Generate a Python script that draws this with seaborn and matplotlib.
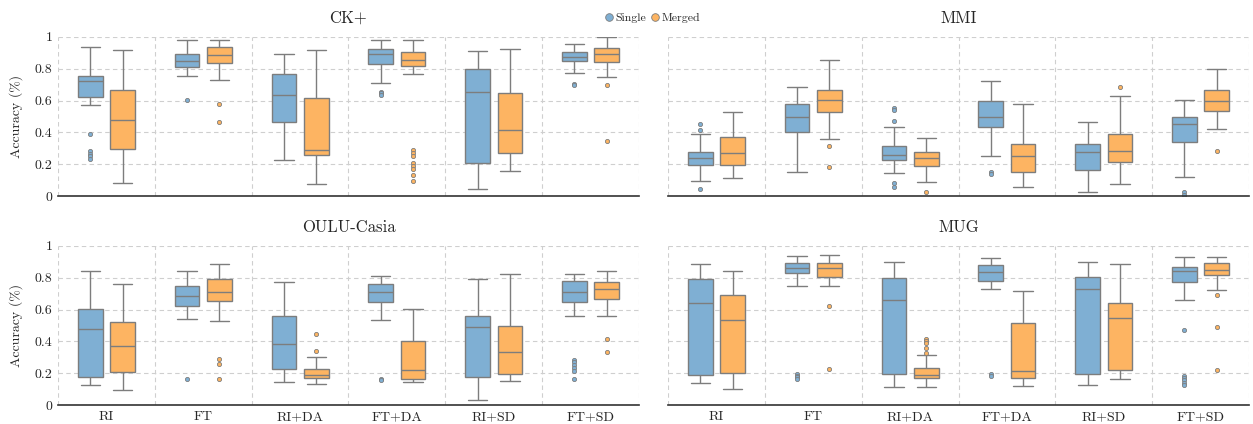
import numpy as np
import pandas as pd
import matplotlib.pyplot as plt
from matplotlib.lines import Line2D
import seaborn as sns

sns.set_style("white")
plt.rcParams["font.family"] = ["cmr10", "DejaVu Serif"]
plt.rcParams["axes.formatter.use_mathtext"] = True
plt.rcParams["mathtext.fontset"] = "cm"

methods = ["RI", "FT", "RI+DA", "FT+DA", "RI+SD", "FT+SD"]
kinds = ["Single", "Merged"]
colors = {"Single": "#7fafd3", "Merged": "#fdb462"}
edge = "#7d7d7d"

# (whisker low, q1, median, q3, whisker high) for each method
ck_single = [(0.574, 0.62, 0.722, 0.756, 0.937), (0.756, 0.808, 0.848, 0.894, 0.981),
             (0.225, 0.468, 0.637, 0.768, 0.891), (0.712, 0.831, 0.889, 0.923, 0.981),
             (0.044, 0.211, 0.651, 0.797, 0.908), (0.770, 0.845, 0.875, 0.906, 0.954)]
ck_single_out = [[0.392, 0.284, 0.267, 0.25, 0.236], [0.605], [], [0.655, 0.645, 0.635], [], [0.705, 0.695]]
ck_merged = [(0.081, 0.299, 0.476, 0.666, 0.914), (0.731, 0.833, 0.883, 0.933, 0.981),
             (0.079, 0.257, 0.292, 0.616, 0.914), (0.764, 0.814, 0.856, 0.902, 0.981),
             (0.157, 0.269, 0.415, 0.649, 0.921), (0.745, 0.841, 0.889, 0.931, 0.996)]
ck_merged_out = [[], [0.58, 0.466], [], [0.288, 0.269, 0.25, 0.207, 0.19, 0.17, 0.134, 0.094], [], [0.699, 0.349]]

mmi_single = [(0.094, 0.197, 0.242, 0.28, 0.392), (0.154, 0.403, 0.499, 0.58, 0.683),
              (0.144, 0.225, 0.257, 0.313, 0.436), (0.251, 0.436, 0.499, 0.599, 0.72),
              (0.027, 0.165, 0.276, 0.33, 0.466), (0.123, 0.342, 0.453, 0.497, 0.605)]
mmi_single_out = [[0.453, 0.415, 0.046], [], [0.552, 0.54, 0.47, 0.085, 0.061], [0.155, 0.14], [], [0.027, 0.005]]
mmi_merged = [(0.113, 0.198, 0.269, 0.374, 0.53), (0.361, 0.53, 0.605, 0.664, 0.856),
              (0.092, 0.188, 0.238, 0.276, 0.363), (0.056, 0.154, 0.25, 0.33, 0.58),
              (0.075, 0.217, 0.282, 0.39, 0.626), (0.424, 0.532, 0.599, 0.664, 0.80)]
mmi_merged_out = [[], [0.313, 0.186], [0.027], [], [0.687], [0.284]]

oulu_single = [(0.129, 0.175, 0.478, 0.603, 0.843), (0.539, 0.622, 0.687, 0.749, 0.843),
               (0.144, 0.225, 0.382, 0.559, 0.77), (0.532, 0.645, 0.71, 0.758, 0.812),
               (0.035, 0.175, 0.489, 0.562, 0.791), (0.562, 0.645, 0.71, 0.779, 0.823)]
oulu_single_out = [[], [0.165], [], [0.166, 0.158], [], [0.286, 0.269, 0.253, 0.236, 0.217, 0.165]]
oulu_merged = [(0.094, 0.209, 0.374, 0.52, 0.758), (0.53, 0.656, 0.708, 0.789, 0.885),
               (0.132, 0.173, 0.192, 0.225, 0.30), (0.146, 0.165, 0.219, 0.405, 0.603),
               (0.15, 0.194, 0.332, 0.497, 0.823), (0.562, 0.666, 0.727, 0.77, 0.843)]
oulu_merged_out = [[], [0.29, 0.261, 0.165], [0.447, 0.342], [], [], [0.418, 0.332]]

mug_single = [(0.138, 0.19, 0.639, 0.793, 0.885), (0.748, 0.831, 0.86, 0.889, 0.935),
              (0.117, 0.194, 0.658, 0.80, 0.896), (0.727, 0.781, 0.833, 0.877, 0.923),
              (0.127, 0.194, 0.727, 0.802, 0.896), (0.66, 0.775, 0.839, 0.868, 0.929)]
mug_single_out = [[], [0.195, 0.185, 0.175, 0.165], [], [0.195, 0.185], [], [0.472, 0.184, 0.171, 0.157, 0.142, 0.129]]
mug_merged = [(0.10, 0.20, 0.537, 0.689, 0.843), (0.745, 0.802, 0.86, 0.889, 0.939),
              (0.113, 0.173, 0.19, 0.232, 0.313), (0.123, 0.171, 0.213, 0.514, 0.714),
              (0.165, 0.221, 0.547, 0.641, 0.883), (0.724, 0.816, 0.848, 0.894, 0.931)]
mug_merged_out = [[], [0.622, 0.23], [0.418, 0.405, 0.388, 0.357, 0.328], [], [], [0.691, 0.491, 0.219]]

panels = [("CK+", ck_single, ck_single_out, ck_merged, ck_merged_out),
          ("MMI", mmi_single, mmi_single_out, mmi_merged, mmi_merged_out),
          ("OULU-Casia", oulu_single, oulu_single_out, oulu_merged, oulu_merged_out),
          ("MUG", mug_single, mug_single_out, mug_merged, mug_merged_out)]


def sample(stats, out, m=40):
    # a sample whose box plot statistics are the ones
    lo, q1, med, q3, hi = stats
    return list(out) + [lo] + [q1] * m + [med] * m + [q3] * m + [hi]


def frame(single, single_out, merged, merged_out):
    rows = []
    for kind, st, outs in [("Single", single, single_out), ("Merged", merged, merged_out)]:
        for meth, s, o in zip(methods, st, outs):
            for v in sample(s, o):
                rows.append((meth, kind, v))
    return pd.DataFrame(rows, columns=["method", "kind", "acc"])


fig, axes = plt.subplots(2, 2, figsize=(12.53, 4.24), dpi=100)
fig.subplots_adjust(left=0.0463, right=0.9968, bottom=0.0441, top=0.9134, wspace=0.05, hspace=0.31)

for ax, (name, s, so, mg, mo) in zip(axes.flat, panels):
    df = frame(s, so, mg, mo)
    sns.boxplot(data=df, x="method", y="acc", hue="kind",
                order=methods, hue_order=kinds, palette=colors, saturation=1,
                width=0.67, gap=0.24, linecolor=edge, linewidth=1,
                flierprops=dict(marker="o", markersize=3.0,
                                markeredgecolor=edge, markeredgewidth=0.6),
                capwidths=0.2, legend=False, ax=ax)
    # colour the outliers like their box (left of centre = Single)
    for ln in ax.lines:
        if ln.get_marker() == "o" and len(ln.get_xdata()):
            x = np.asarray(ln.get_xdata(), float)[0]
            kind = "Single" if x < np.round(x) else "Merged"
            ln.set_markerfacecolor(colors[kind])
    ax.set_xlim(-0.5, 5.5)
    ax.set_ylim(0, 1)
    ax.set_xticks(np.arange(-0.5, 6), minor=True)
    ax.set_yticks([0, 0.2, 0.4, 0.6, 0.8, 1])
    ax.grid(which="minor", axis="x", ls=(0, (4, 3)), color="#cfcfcf", lw=0.8)
    ax.grid(which="major", axis="y", ls=(0, (4, 3)), color="#cfcfcf", lw=0.8)
    ax.set_axisbelow(True)
    ax.tick_params(which="minor", length=0)
    ax.tick_params(axis="x", which="major", length=0, pad=4, labelsize=10)
    ax.tick_params(axis="y", length=3, direction="in", color="#999999", labelsize=10, pad=4)
    for sp in ["top", "right", "left"]:
        ax.spines[sp].set_visible(False)
    ax.spines["bottom"].set_color("#333333")
    ax.spines["bottom"].set_linewidth(1.2)
    ax.set_title(name, fontsize=12, pad=10)
    ax.set_xlabel("")
    ax.set_ylabel("")

for ax in axes[0]:
    ax.set_xticklabels([])
for ax in axes[1]:
    ax.set_xticklabels(methods)
for ax in axes[:, 0]:
    ax.set_yticklabels(["0", "0.2", "0.4", "0.6", "0.8", "1"])
    ax.set_ylabel("Accuracy (%)", fontsize=10, labelpad=8)
for ax in axes[:, 1]:
    ax.set_yticklabels([])

handles = [Line2D([], [], ls="", marker="o", markersize=5.5, markerfacecolor=colors[k],
                  markeredgecolor=edge, markeredgewidth=0.6) for k in kinds]
fig.legend(handles, kinds, loc="center", bbox_to_anchor=(0.52, 0.957), ncol=2, frameon=False,
           fontsize=8.5, handletextpad=0.05, columnspacing=0.3, handlelength=1.0)

fig.savefig("out.png", dpi=100)
